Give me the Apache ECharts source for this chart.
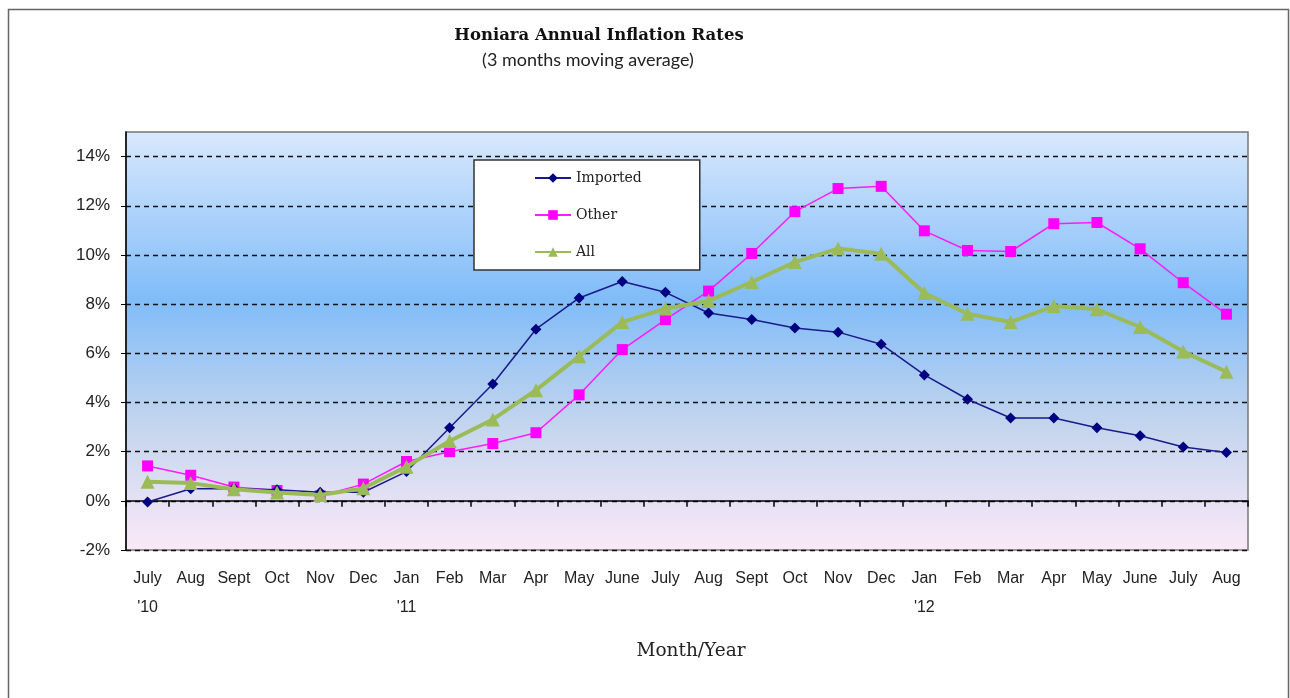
<!DOCTYPE html>
<html>
<head>
<meta charset="utf-8">
<script src="https://cdn.jsdelivr.net/npm/echarts@6/dist/echarts.min.js"></script>
<style>
  html, body { margin: 0; padding: 0; background: #fff; }
  #chart { width: 1290px; height: 698px; }
</style>
</head>
<body>
<div id="chart"></div>
<script>
// month labels and the year shown under some of them
const months = ['July', 'Aug', 'Sept', 'Oct', 'Nov', 'Dec', 'Jan', 'Feb', 'Mar', 'Apr', 'May', 'June', 'July',
  'Aug', 'Sept', 'Oct', 'Nov', 'Dec', 'Jan', 'Feb', 'Mar', 'Apr', 'May', 'June', 'July', 'Aug'];
const years = ["'10", '', '', '', '', '', "'11", '', '', '', '', '', '',
  '', '', '', '', '', "'12", '', '', '', '', '', '', ''];
const yTicks = [-2, 0, 2, 4, 6, 8, 10, 12, 14];

const imported = [-0.05, 0.49, 0.5, 0.45, 0.35, 0.35, 1.19, 2.97, 4.75, 6.98, 8.25, 8.92, 8.48,
  7.64, 7.37, 7.03, 6.86, 6.37, 5.12, 4.13, 3.37, 3.37, 2.97, 2.65, 2.19, 1.97];
const other = [1.42, 1.04, 0.56, 0.42, 0.2, 0.68, 1.6, 2.0, 2.33, 2.77, 4.31, 6.15, 7.37,
  8.53, 10.06, 11.76, 12.7, 12.79, 10.98, 10.18, 10.14, 11.27, 11.32, 10.25, 8.87, 7.59];
const all = [0.78, 0.72, 0.47, 0.34, 0.24, 0.51, 1.39, 2.43, 3.31, 4.5, 5.88, 7.27, 7.82,
  8.13, 8.9, 9.71, 10.26, 10.05, 8.45, 7.61, 7.27, 7.92, 7.79, 7.07, 6.07, 5.25];

const chart = echarts.init(document.getElementById('chart'));

chart.setOption({
  animation: false,
  graphic: [{
    type: 'rect',
    shape: { x: 8.5, y: 9.5, width: 1280, height: 700 },
    style: { fill: 'none', stroke: '#666', lineWidth: 1.5 }
  }],
  title: [
    {
      text: 'Honiara Annual Inflation Rates',
      left: 594, top: 22, textAlign: 'center',
      textStyle: { fontFamily: 'DejaVu Serif', fontWeight: 'bold', fontSize: 16.5, color: '#111' }
    },
    {
      text: '(3 months moving average)',
      left: 583, top: 46, textAlign: 'center',
      textStyle: { fontFamily: 'Lato', fontWeight: 'normal', fontSize: 18, color: '#222' }
    },
    {
      text: 'Month/Year',
      left: 686, top: 637, textAlign: 'center',
      textStyle: { fontFamily: 'DejaVu Serif', fontWeight: 'normal', fontSize: 18.5, color: '#222' }
    }
  ],
  legend: {
    orient: 'vertical',
    left: 474, top: 160,
    padding: [11, 58, 11, 60],
    itemGap: 23,
    itemWidth: 36, itemHeight: 12,
    backgroundColor: '#fff',
    borderColor: '#333', borderWidth: 1.5,
    textStyle: { fontFamily: 'DejaVu Serif', fontSize: 14, color: '#222' },
    data: ['Imported', 'Other', 'All']
  },
  grid: {
    left: 126, right: 42, top: 132, bottom: 148,
    show: true,
    borderColor: '#777', borderWidth: 1.5,
    backgroundColor: {
      type: 'linear', x: 0, y: 0, x2: 0, y2: 1,
      colorStops: [
        { offset: 0, color: '#d9e8fd' },
        { offset: 0.4, color: '#80bcf8' },
        { offset: 0.7, color: '#c3d5ee' },
        { offset: 1, color: '#fbe9f8' }
      ]
    }
  },
  xAxis: {
    type: 'category',
    data: months,
    boundaryGap: true,
    axisLine: { onZero: true, lineStyle: { color: '#000', width: 1.5 } },
    axisTick: { show: true, inside: false, length: 6, lineStyle: { color: '#000', width: 1.5 } },
    axisLabel: {
      interval: 0, margin: 14,
      fontFamily: 'Liberation Sans', fontSize: 16, color: '#222',
      lineHeight: 29, verticalAlign: 'top',
      formatter: function (v, i) { return years[i] ? v + '\n' + years[i] : v; }
    },
    splitLine: { show: false }
  },
  yAxis: {
    type: 'value',
    min: -2, max: 15, interval: 2,
    axisLine: { show: true, lineStyle: { color: '#000', width: 1.5 } },
    axisTick: { show: true, length: 5, customValues: yTicks, lineStyle: { color: '#000' } },
    axisLabel: {
      margin: 16, customValues: yTicks,
      fontFamily: 'Liberation Sans', fontSize: 17, color: '#222',
      formatter: function (v) { return v + '%'; }
    },
    splitLine: { show: true, lineStyle: { color: '#111', type: [5, 4], width: 1.3 } }
  },
  series: [
    {
      name: 'Imported', type: 'line', data: imported,
      symbol: 'diamond', symbolSize: 11,
      lineStyle: { color: '#1a1a8c', width: 1.5 },
      itemStyle: { color: '#000080' },
      z: 3
    },
    {
      name: 'Other', type: 'line', data: other,
      symbol: 'rect', symbolSize: 11,
      lineStyle: { color: '#ff1aff', width: 1.5 },
      itemStyle: { color: '#ff00ff' },
      z: 2
    },
    {
      name: 'All', type: 'line', data: all,
      symbol: 'triangle', symbolSize: 14,
      lineStyle: { color: '#9bbb59', width: 4 },
      itemStyle: { color: '#9bbb59' },
      z: 4
    }
  ]
});
</script>
</body>
</html>
